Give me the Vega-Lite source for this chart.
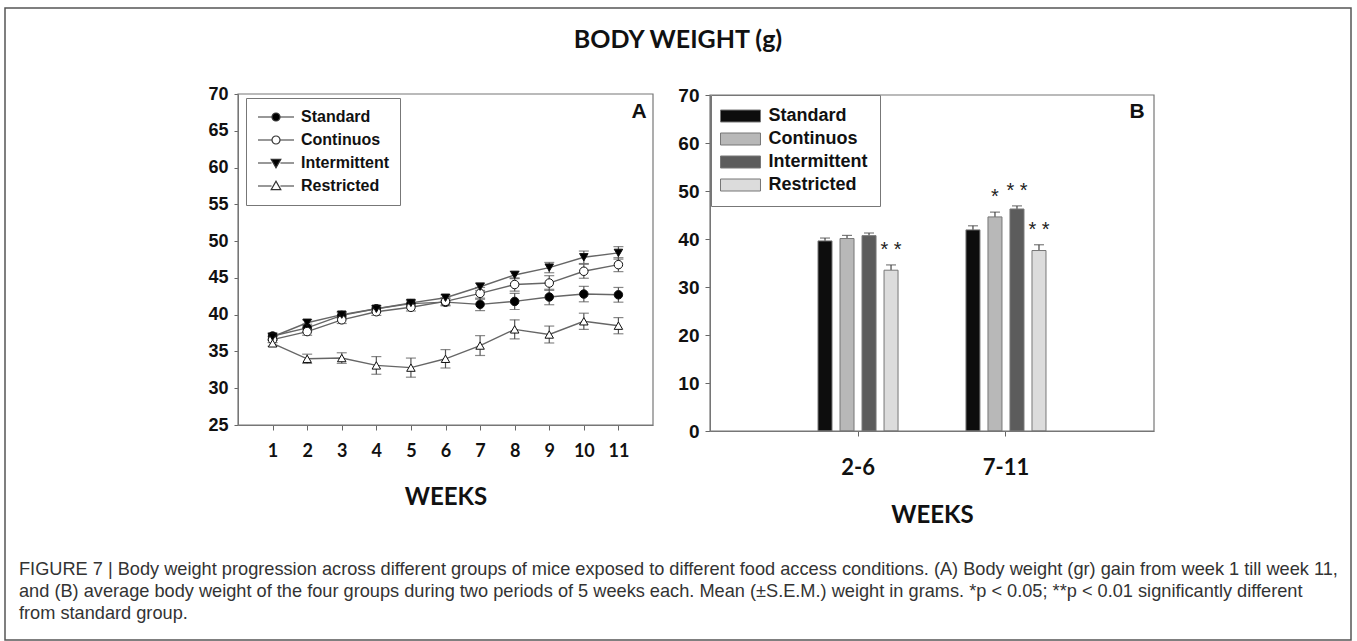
{
  "$schema": "https://vega.github.io/schema/vega-lite/v6.json",
  "background": "white",
  "width": 1346,
  "height": 632,
  "autosize": {"type": "none"},
  "padding": {"left": 5, "top": 8, "right": 6, "bottom": 1},
  "view": {"stroke": "#555", "strokeWidth": 1.5},
  "title": {"text": "BODY WEIGHT (g)", "anchor": "middle", "frame": "group", "offset": -38, "dy": 27, "baseline": "alphabetic", "font": "Lato", "fontSize": 25, "fontWeight": "bold", "color": "#111"},
  "config": {"axis": {"grid": false}},
  "resolve": {
    "scale": {"x": "independent", "y": "independent", "shape": "independent", "fill": "independent", "color": "independent"},
    "axis": {"x": "independent", "y": "independent"},
    "legend": {"shape": "independent", "fill": "independent", "color": "independent"}
  },
  "layer": [
    {
      "data": {"values": [
        {"week": 1, "group": "Standard", "mean": 37.1, "sem": 0.4},
        {"week": 2, "group": "Standard", "mean": 38.2, "sem": 0.5},
        {"week": 3, "group": "Standard", "mean": 39.9, "sem": 0.4},
        {"week": 4, "group": "Standard", "mean": 40.8, "sem": 0.4},
        {"week": 5, "group": "Standard", "mean": 41.5, "sem": 0.4},
        {"week": 6, "group": "Standard", "mean": 41.7, "sem": 0.5},
        {"week": 7, "group": "Standard", "mean": 41.4, "sem": 0.85},
        {"week": 8, "group": "Standard", "mean": 41.8, "sem": 1.1},
        {"week": 9, "group": "Standard", "mean": 42.4, "sem": 1.05},
        {"week": 10, "group": "Standard", "mean": 42.8, "sem": 1.05},
        {"week": 11, "group": "Standard", "mean": 42.7, "sem": 1.0},
        {"week": 1, "group": "Continuos", "mean": 36.6, "sem": 0.4},
        {"week": 2, "group": "Continuos", "mean": 37.7, "sem": 0.5},
        {"week": 3, "group": "Continuos", "mean": 39.3, "sem": 0.5},
        {"week": 4, "group": "Continuos", "mean": 40.4, "sem": 0.5},
        {"week": 5, "group": "Continuos", "mean": 41.0, "sem": 0.5},
        {"week": 6, "group": "Continuos", "mean": 41.8, "sem": 0.5},
        {"week": 7, "group": "Continuos", "mean": 42.9, "sem": 0.8},
        {"week": 8, "group": "Continuos", "mean": 44.1, "sem": 0.9},
        {"week": 9, "group": "Continuos", "mean": 44.3, "sem": 1.0},
        {"week": 10, "group": "Continuos", "mean": 45.9, "sem": 0.95},
        {"week": 11, "group": "Continuos", "mean": 46.8, "sem": 0.95},
        {"week": 1, "group": "Intermittent", "mean": 37.0, "sem": 0.4},
        {"week": 2, "group": "Intermittent", "mean": 38.9, "sem": 0.4},
        {"week": 3, "group": "Intermittent", "mean": 40.0, "sem": 0.4},
        {"week": 4, "group": "Intermittent", "mean": 40.8, "sem": 0.4},
        {"week": 5, "group": "Intermittent", "mean": 41.6, "sem": 0.4},
        {"week": 6, "group": "Intermittent", "mean": 42.3, "sem": 0.4},
        {"week": 7, "group": "Intermittent", "mean": 43.8, "sem": 0.5},
        {"week": 8, "group": "Intermittent", "mean": 45.4, "sem": 0.5},
        {"week": 9, "group": "Intermittent", "mean": 46.4, "sem": 0.7},
        {"week": 10, "group": "Intermittent", "mean": 47.8, "sem": 0.85},
        {"week": 11, "group": "Intermittent", "mean": 48.4, "sem": 0.85},
        {"week": 1, "group": "Restricted", "mean": 36.1, "sem": 0.4},
        {"week": 2, "group": "Restricted", "mean": 34.0, "sem": 0.63},
        {"week": 3, "group": "Restricted", "mean": 34.1, "sem": 0.72},
        {"week": 4, "group": "Restricted", "mean": 33.1, "sem": 1.2},
        {"week": 5, "group": "Restricted", "mean": 32.8, "sem": 1.3},
        {"week": 6, "group": "Restricted", "mean": 34.0, "sem": 1.25},
        {"week": 7, "group": "Restricted", "mean": 35.8, "sem": 1.35},
        {"week": 8, "group": "Restricted", "mean": 38.0, "sem": 1.3},
        {"week": 9, "group": "Restricted", "mean": 37.3, "sem": 1.15},
        {"week": 10, "group": "Restricted", "mean": 39.1, "sem": 1.1},
        {"week": 11, "group": "Restricted", "mean": 38.5, "sem": 1.1}
      ]},
      "encoding": {
        "x": {"field": "week", "type": "quantitative", "scale": {"domain": [0, 12], "range": [233, 648], "nice": false, "zero": false},
          "axis": {"orient": "bottom", "offset": -215, "values": [1,2,3,4,5,6,7,8,9,10,11], "title": "WEEKS", "titleFont": "Lato", "titleFontSize": 24, "titleFontWeight": "bold", "titleColor": "#111", "titlePadding": 25,
            "labelFont": "Lato", "labelFontSize": 18, "labelFontWeight": "bold", "labelColor": "#111", "labelPadding": 12, "labelFlush": false,
            "tickSize": 5, "tickColor": "#666", "domainColor": "#777", "grid": false}},
        "y": {"field": "mean", "type": "quantitative", "scale": {"domain": [25, 70], "range": [417, 86], "nice": false, "zero": false},
          "axis": {"orient": "left", "offset": -233, "values": [25,30,35,40,45,50,55,60,65,70], "title": null, "labelFont": "Liberation Sans", "labelFontSize": 18, "labelFontWeight": "bold", "labelColor": "#111", "labelPadding": 6,
            "tickSize": 4, "tickColor": "#666", "domainColor": "#777", "grid": false}}
      },
      "layer": [
        {"mark": {"type": "line", "color": "#666", "strokeWidth": 1.4}, "encoding": {"detail": {"field": "group", "type": "nominal"}}},
        {"mark": {"type": "errorbar", "color": "#555", "thickness": 1.2, "ticks": {"size": 10, "thickness": 1.2}}, "encoding": {"yError": {"field": "sem"}}},
        {"mark": {"type": "point", "filled": true, "size": 72, "stroke": "#111", "strokeWidth": 1, "opacity": 1},
          "encoding": {
            "fill": {"field": "group", "type": "nominal", "scale": {"domain": ["Standard", "Continuos", "Intermittent", "Restricted"], "range": ["#000000", "#ffffff", "#000000", "#ffffff"]}, "legend": null},
            "shape": {"field": "group", "type": "nominal", "scale": {"domain": ["Standard", "Continuos", "Intermittent", "Restricted"], "range": ["circle", "circle", "triangle-down", "triangle-up"]}, "legend": null}
          }}
      ]
    },
    {
      "data": {"values": [{"label": "A"}]},
      "layer": [
        {"mark": {"type": "rect", "fillOpacity": 0, "stroke": "#777", "strokeWidth": 1.2},
          "encoding": {
            "x": {"datum": 0, "type": "quantitative", "scale": {"domain": [0, 12], "range": [233, 648]}, "axis": null},
            "x2": {"datum": 12},
            "y": {"datum": 25, "type": "quantitative", "scale": {"domain": [25, 70], "range": [417, 86]}, "axis": null},
            "y2": {"datum": 70}}},
        {"mark": {"type": "text", "font": "Liberation Sans", "fontSize": 21, "fontWeight": "bold", "color": "#111", "align": "center", "baseline": "middle"},
          "encoding": {
            "x": {"datum": 11.6, "type": "quantitative", "scale": {"domain": [0, 12], "range": [233, 648]}, "axis": null},
            "y": {"datum": 67.55, "type": "quantitative", "scale": {"domain": [25, 70], "range": [417, 86]}, "axis": null},
            "text": {"field": "label"}}}
      ]
    },
    {
      "data": {"values": [{"group": "Standard"}, {"group": "Continuos"}, {"group": "Intermittent"}, {"group": "Restricted"}]},
      "transform": [{"filter": "false"}],
      "mark": {"type": "point", "filled": true, "size": 64, "stroke": "#333", "strokeWidth": 1.2},
      "encoding": {
        "shape": {"field": "group", "type": "nominal",
          "scale": {"domain": ["Standard", "Continuos", "Intermittent", "Restricted"],
            "range": ["M-4.5,0L-1,0M1,0L4.5,0M1,0A1,1,0,1,1,-1,0A1,1,0,1,1,1,0Z", "M-4.5,0L-1,0M1,0L4.5,0M1,0A1,1,0,1,1,-1,0A1,1,0,1,1,1,0Z", "M-4.5,0L-1.1,0M1.1,0L4.5,0M-1.2,-0.9L1.2,-0.9L0,1.2Z", "M-4.5,0L-1.1,0M1.1,0L4.5,0M-1.2,0.9L1.2,0.9L0,-1.2Z"]},
          "legend": {"orient": "none", "legendX": 241, "legendY": 90, "title": null, "padding": 11, "strokeColor": "#777", "fillColor": "white",
            "symbolSize": 64, "symbolOffset": 11, "labelOffset": 17, "symbolStrokeColor": "#333", "symbolStrokeWidth": 1.2, "symbolOpacity": 1,
            "labelFont": "Liberation Sans", "labelFontSize": 16, "labelFontWeight": "bold", "labelColor": "#111", "rowPadding": 7,
            "encode": {"symbols": {"update": {"stroke": {"value": "#333"}, "strokeWidth": {"value": 1.2}}}}}},
        "fill": {"field": "group", "type": "nominal",
          "scale": {"domain": ["Standard", "Continuos", "Intermittent", "Restricted"], "range": ["#000000", "#ffffff", "#000000", "#ffffff"]},
          "legend": {"orient": "none", "legendX": 241, "legendY": 90, "title": null, "padding": 11, "strokeColor": "#777", "fillColor": "white",
            "symbolSize": 64, "symbolOffset": 11, "labelOffset": 17, "symbolStrokeColor": "#333", "symbolStrokeWidth": 1.2, "symbolOpacity": 1,
            "labelFont": "Liberation Sans", "labelFontSize": 16, "labelFontWeight": "bold", "labelColor": "#111", "rowPadding": 7,
            "encode": {"symbols": {"update": {"stroke": {"value": "#333"}, "strokeWidth": {"value": 1.2}}}}}}
      }
    },
    {
      "data": {"values": [
        {"period": "2-6", "group": "Standard", "mean": 39.6, "upper": 40.2, "sig": ""},
        {"period": "2-6", "group": "Continuos", "mean": 40.1, "upper": 40.75, "sig": ""},
        {"period": "2-6", "group": "Intermittent", "mean": 40.7, "upper": 41.25, "sig": ""},
        {"period": "2-6", "group": "Restricted", "mean": 33.5, "upper": 34.6, "sig": "* *"},
        {"period": "7-11", "group": "Standard", "mean": 41.9, "upper": 42.75, "sig": ""},
        {"period": "7-11", "group": "Continuos", "mean": 44.6, "upper": 45.6, "sig": "*"},
        {"period": "7-11", "group": "Intermittent", "mean": 46.25, "upper": 46.9, "sig": "* *"},
        {"period": "7-11", "group": "Restricted", "mean": 37.6, "upper": 38.8, "sig": "* *"}
      ]},
      "encoding": {
        "x": {"field": "period", "type": "nominal", "scale": {"range": [705, 1149], "paddingInner": 0.405, "paddingOuter": 0.703},
          "axis": {"orient": "bottom", "offset": -209, "title": "WEEKS", "labelAngle": 0, "titleFont": "Lato", "titleFontSize": 24, "titleFontWeight": "bold", "titleColor": "#111", "titlePadding": 25,
            "labelFont": "Lato", "labelFontSize": 22, "labelFontWeight": "bold", "labelColor": "#111", "labelPadding": 21,
            "tickSize": 5, "tickColor": "#666", "domainColor": "#777", "grid": false}},
        "xOffset": {"field": "group", "type": "nominal", "scale": {"domain": ["Standard", "Continuos", "Intermittent", "Restricted"], "paddingInner": 0.364, "paddingOuter": 0.182}},
        "y": {"field": "mean", "type": "quantitative", "scale": {"domain": [0, 70], "range": [423, 87], "nice": false},
          "axis": {"orient": "left", "offset": -705, "values": [0,10,20,30,40,50,60,70], "title": null, "labelFont": "Liberation Sans", "labelFontSize": 19, "labelFontWeight": "bold", "labelColor": "#111", "labelPadding": 6,
            "tickSize": 5, "tickColor": "#666", "domainColor": "#777", "grid": false}}
      },
      "layer": [
        {"mark": {"type": "rule", "color": "#444", "strokeWidth": 1.2}, "encoding": {"y2": {"field": "upper"}}},
        {"mark": {"type": "tick", "color": "#444", "size": 10, "thickness": 1.2, "orient": "horizontal"}, "encoding": {"y": {"field": "upper", "type": "quantitative"}}},
        {"mark": {"type": "bar", "stroke": "#777", "strokeWidth": 1},
          "encoding": {"color": {"field": "group", "type": "nominal", "scale": {"domain": ["Standard", "Continuos", "Intermittent", "Restricted"], "range": ["#0d0d0d", "#b8b8b8", "#5c5c5c", "#dcdcdc"]},
            "legend": {"orient": "none", "legendX": 706, "legendY": 87, "title": null, "padding": 12, "strokeColor": "#777", "fillColor": "white",
              "symbolType": "M-3.333,-1L3.333,-1L3.333,1L-3.333,1Z", "symbolSize": 144, "symbolOffset": 8.5, "labelOffset": 19, "symbolStrokeColor": "#777", "symbolStrokeWidth": 1, "symbolOpacity": 1,
              "labelFont": "Liberation Sans", "labelFontSize": 18, "labelFontWeight": "bold", "labelColor": "#111", "rowPadding": 5}}}},
        {"transform": [{"filter": "datum.sig != ''"}],
          "mark": {"type": "text", "font": "Liberation Sans", "fontSize": 20, "color": "#222", "baseline": "middle", "dy": -15},
          "encoding": {"y": {"field": "upper", "type": "quantitative"}, "text": {"field": "sig"}}}
      ]
    },
    {
      "data": {"values": [{"label": "B"}]},
      "layer": [
        {"mark": {"type": "rect", "fillOpacity": 0, "stroke": "#777", "strokeWidth": 1.2},
          "encoding": {
            "x": {"datum": 0, "type": "quantitative", "scale": {"domain": [0, 1], "range": [705, 1149]}, "axis": null},
            "x2": {"datum": 1},
            "y": {"datum": 0, "type": "quantitative", "scale": {"domain": [0, 70], "range": [423, 87]}, "axis": null},
            "y2": {"datum": 70}}},
        {"mark": {"type": "text", "font": "Liberation Sans", "fontSize": 21, "fontWeight": "bold", "color": "#111", "align": "center", "baseline": "middle"},
          "encoding": {
            "x": {"datum": 0.9617, "type": "quantitative", "scale": {"domain": [0, 1], "range": [705, 1149]}, "axis": null},
            "y": {"datum": 66.5, "type": "quantitative", "scale": {"domain": [0, 70], "range": [423, 87]}, "axis": null},
            "text": {"field": "label"}}}
      ]
    },
    {
      "data": {"values": [
        {"line": 1, "text": "FIGURE 7 | Body weight progression across different groups of mice exposed to different food access conditions. (A) Body weight (gr) gain from week 1 till week 11,"},
        {"line": 2, "text": "and (B) average body weight of the four groups during two periods of 5 weeks each. Mean (±S.E.M.) weight in grams. *p < 0.05; **p < 0.01 significantly different"},
        {"line": 3, "text": "from standard group."}
      ]},
      "mark": {"type": "text", "align": "left", "baseline": "middle", "font": "Liberation Sans", "fontSize": 18.2, "color": "#333"},
      "encoding": {
        "y": {"field": "line", "type": "ordinal", "scale": {"type": "point", "range": [562, 606], "padding": 0}, "axis": null},
        "x": {"value": 14},
        "text": {"field": "text"}
      }
    }
  ]
}
